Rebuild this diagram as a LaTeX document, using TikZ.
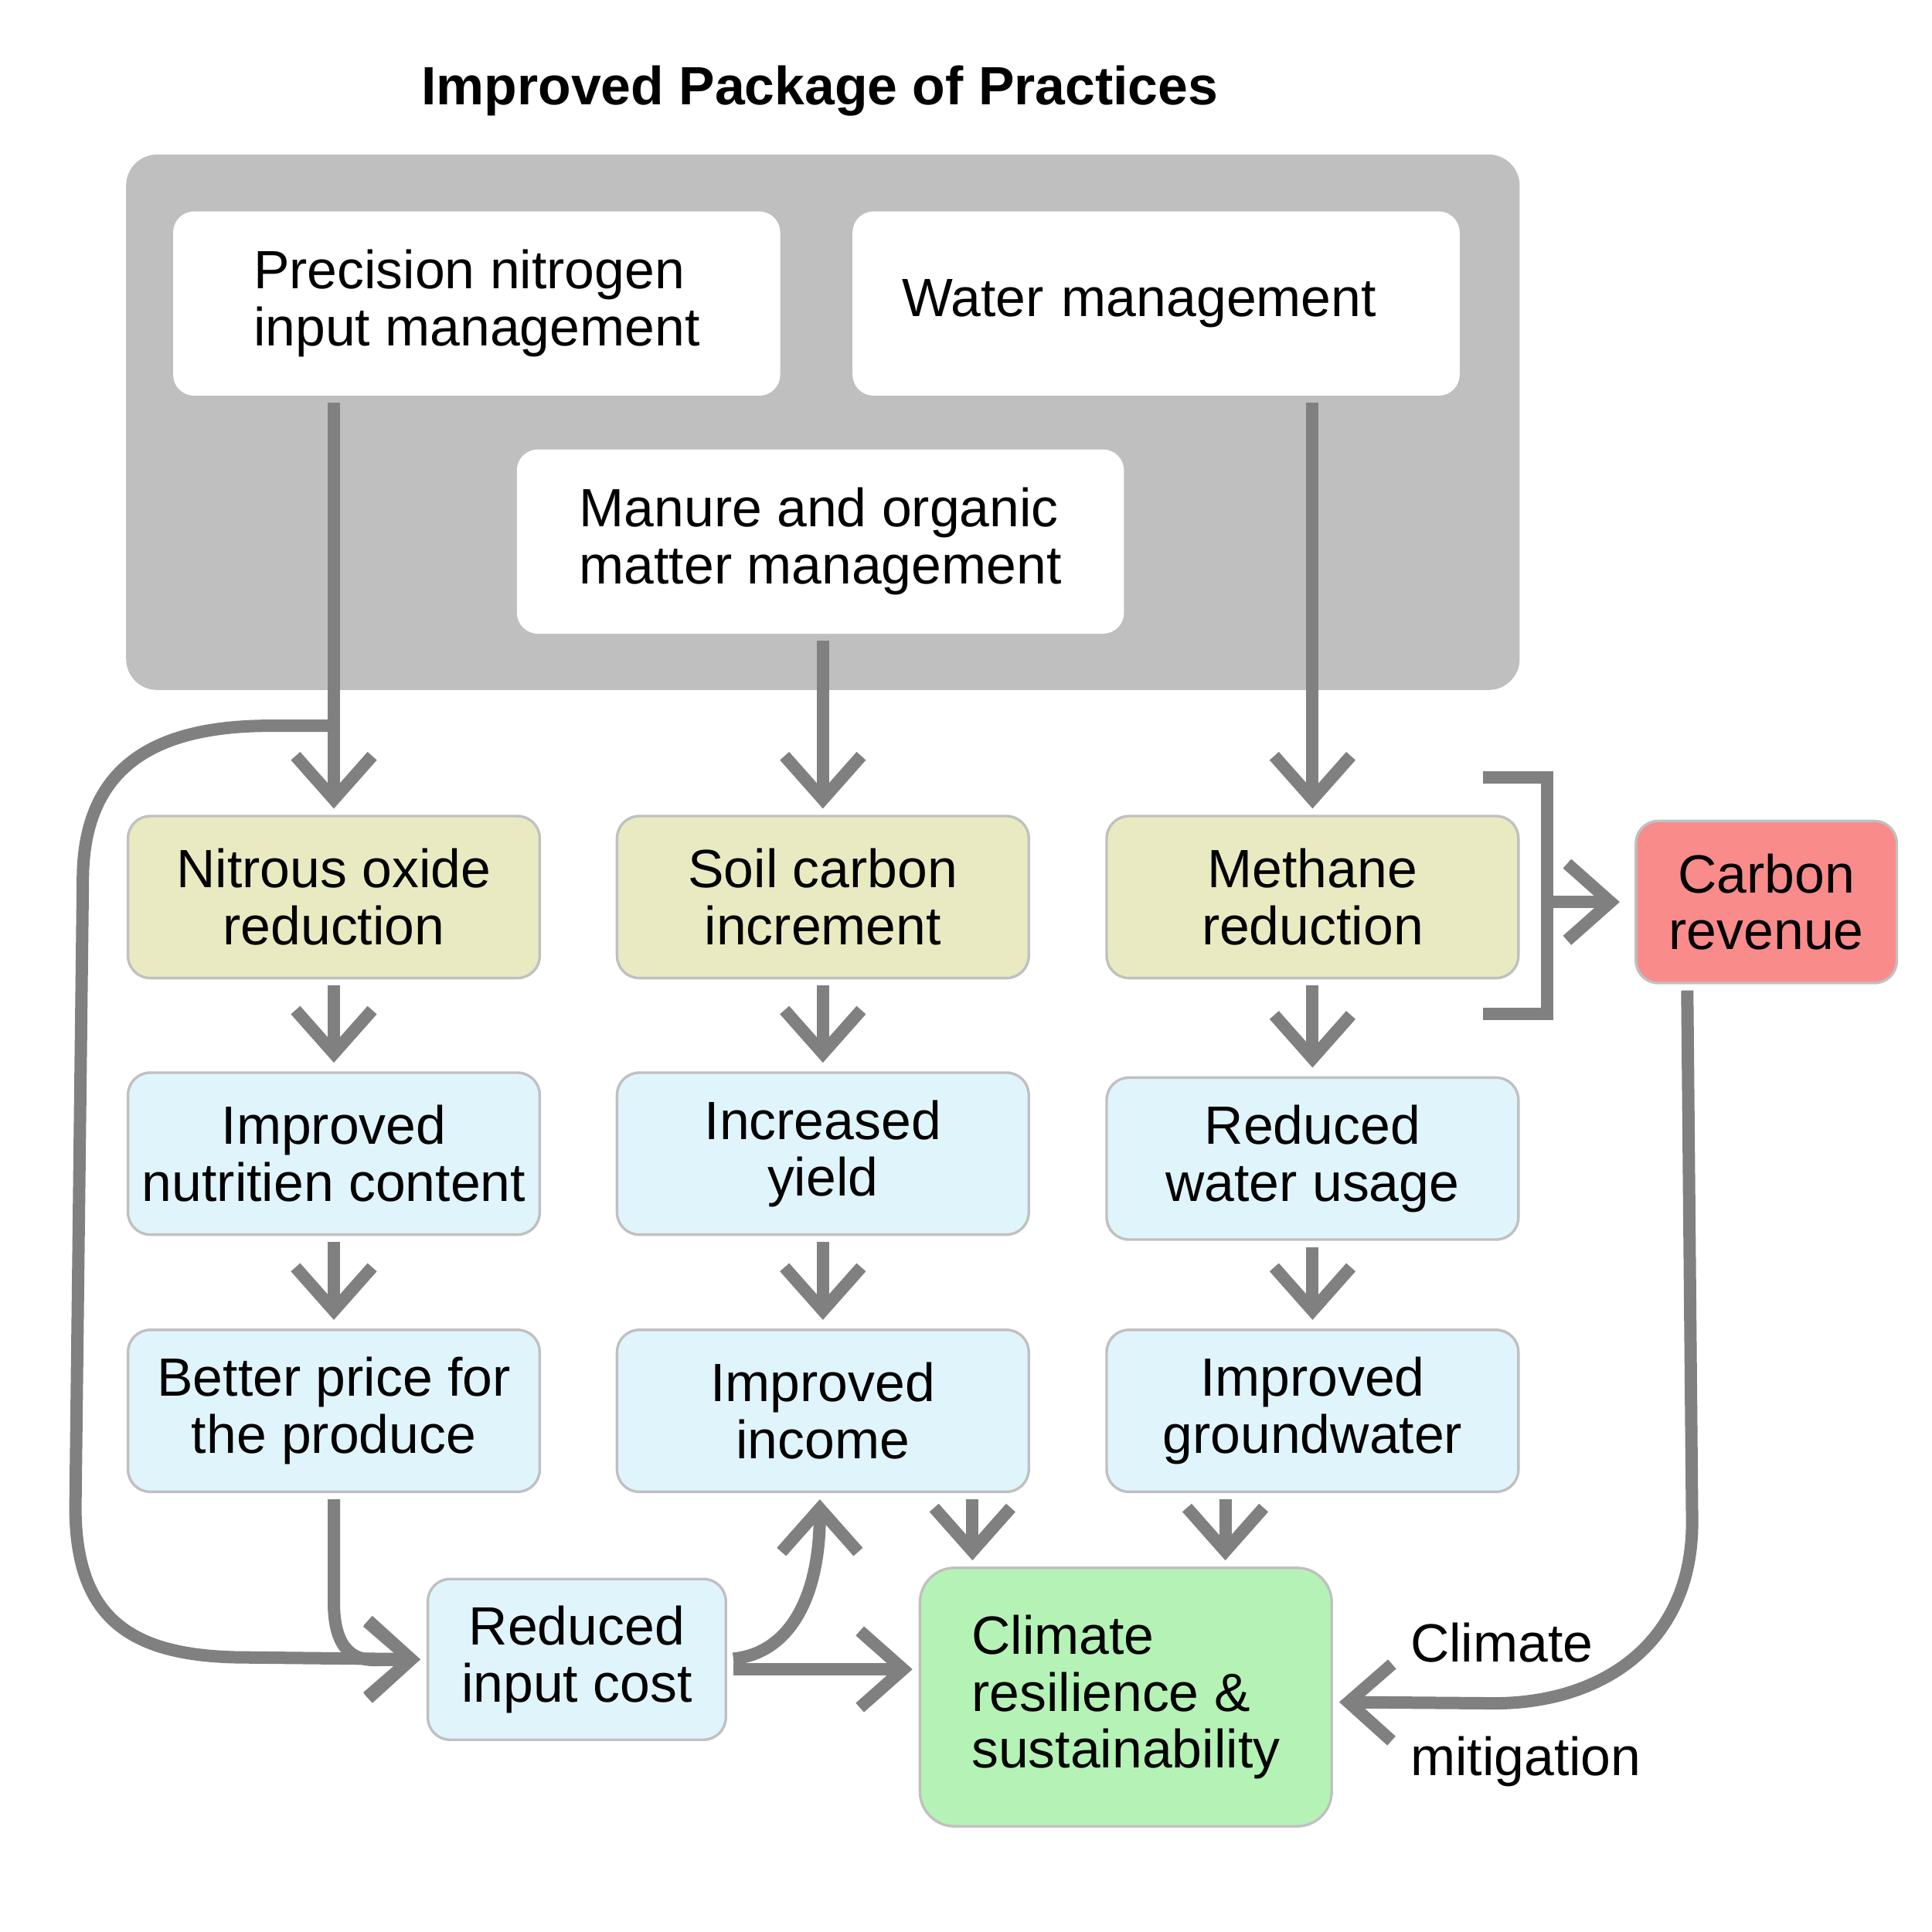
\documentclass[tikz,border=0pt]{standalone}
\usepackage{fontspec}
\setmainfont{Liberation Sans}
\usetikzlibrary{arrows.meta, positioning}
\definecolor{panelgray}{HTML}{BFBFBF}
\definecolor{flowgray}{HTML}{808080}
\definecolor{edgegray}{HTML}{C0C0C0}
\definecolor{khaki}{HTML}{E9EAC2}
\definecolor{paleblue}{HTML}{E0F4FB}
\definecolor{palegreen}{HTML}{B5F2B5}
\definecolor{salmon}{HTML}{F98B8B}

\begin{document}
\begin{tikzpicture}[
    font=\fontsize{12.4}{13.1}\selectfont,
    practice/.style={fill=white, rounded corners=0.17cm, minimum width=4.91cm,
        minimum height=1.49cm, align=left, inner sep=0pt},
    effect/.style={draw=edgegray, line width=0.6pt, fill=#1, rounded corners=0.18cm,
        minimum width=3.33cm, minimum height=1.31cm, align=center, inner sep=0pt},
    flow/.style={draw=flowgray, line width=0.1cm,
        -{Straight Barb[length=0.35cm, width=0.62cm]},
        shorten <=0.05cm, shorten >=0.05cm},
]
    \useasboundingbox (0,0) rectangle (15.625,-15.625);
    \node at (6.63,-0.85) (title) [anchor=base, inner sep=0pt, font=\fontsize{12.4}{13.1}\selectfont\bfseries]
        {Improved Package of Practices};
    % the package of practices
    \node at (6.655,-3.415) (panel) [fill=panelgray, rounded corners=0.25cm,
        minimum width=11.27cm, minimum height=4.33cm, inner sep=0pt] {};
    \node at (3.855,-2.455) (nitro) [practice] {Precision nitrogen\\input management};
    \node at (9.35,-2.455) (water) [practice, text width=4.11cm] {Water management};
    \node at (6.635,-4.38) (manure) [practice] {Manure and organic\\matter management};

    \node at (2.70,-7.255) (nox) [effect=khaki] {Nitrous oxide\\reduction};
    \node at (6.655,-7.255) (soil) [effect=khaki] {Soil carbon\\increment};
    \node at (10.615,-7.255) (meth) [effect=khaki] {Methane\\reduction};

    \node at (2.70,-9.33) (nutri) [effect=paleblue] {Improved\\nutritien content};
    \node at (6.655,-9.33) (yield) [effect=paleblue] {Increased\\yield};
    \node at (10.615,-9.37) (wateruse) [effect=paleblue] {Reduced\\water usage};

    \node at (2.70,-11.41) (price) [effect=paleblue] {Better price for\\the produce};
    \node at (6.655,-11.41) (income) [effect=paleblue] {Improved\\income};
    \node at (10.615,-11.41) (ground) [effect=paleblue] {Improved\\groundwater};

    \node at (4.665,-13.42) (reduced) [effect=paleblue, minimum width=2.41cm, minimum height=1.30cm]
        {Reduced\\input cost};
    \node at (9.105,-13.725) (climate) [effect=palegreen, minimum width=3.33cm, minimum height=2.09cm,
        align=left, rounded corners=0.28cm] {Climate\\resilience \&\\sustainability};
    \node at (14.285,-7.295) (carbon) [effect=salmon, minimum width=2.11cm] {Carbon\\revenue};

    \node at (11.40,-13.44) (mitA) [anchor=base west, inner sep=0pt] {Climate};
    \node at (11.40,-14.36) (mitB) [anchor=base west, inner sep=0pt] {mitigation};

    % practices to effects
    \draw[flow] (nox.north |- nitro.south) -- (nox.north);
    \draw[flow] (soil.north |- manure.south) -- (soil.north);
    \draw[flow] (meth.north |- water.south) -- (meth.north);
    \foreach \a/\b in {nox/nutri, soil/yield, meth/wateruse,
                       nutri/price, yield/income, wateruse/ground} {
        \draw[flow, shorten >=0.07cm] (\a) -- (\b);
    }

    % input cost loop
    \coordinate (split) at ([yshift=0.72cm]nox.north);
    \draw[flow, shorten <=0pt] (split) -- ++(-0.51,0)
        .. controls +(-0.9,0) and +(0,0.95) .. ++(-1.52,-1.25)
        -- ++(-0.06,-5.07)
        .. controls +(0,-0.95) and +(-0.9,0) .. ++(1.4,-1.215)
        -- (reduced.west);
    \draw[flow] (price.south) -- ++(0,-0.88)
        .. controls +(0,-0.35) and +(-0.2,0) .. ++(0.33,-0.47)
        -- (reduced.west);
    \draw[flow] (reduced.east) .. controls +(0.5,0.05) and +(0,-0.85) .. ([xshift=-0.25mm]income.south);
    \draw[flow] ([yshift=-0.8mm]reduced.east) -- ([yshift=-0.8mm]reduced.east -| climate.west);

    \coordinate (inA) at ([xshift=0.435cm]climate.north west);
    \coordinate (inB) at ([xshift=2.48cm]climate.north west);
    \draw[flow] (inA |- income.south) -- (inA);
    \draw[flow] (inB |- ground.south) -- (inB);

    % carbon revenue
    \draw[flowgray, line width=0.1cm] ([xshift=-0.30cm,yshift=0.30cm]meth.north east)
        -| ([xshift=0.22cm,yshift=-0.28cm]meth.south east)
        -- ([xshift=-0.30cm,yshift=-0.28cm]meth.south east);
    \coordinate (brace) at ([xshift=0.22cm]meth.east);
    \draw[flow, shorten <=0pt, shorten >=0.12cm] (brace |- carbon.west) -- (carbon.west);
    \draw[flow] ([xshift=-0.64cm]carbon.south) -- ++(0.04,-4.35)
        .. controls +(0,-1.0) and +(0.85,0) .. ++(-1.6,-1.465)
        -- ([yshift=-0.4mm]climate.east);
\end{tikzpicture}
\end{document}
